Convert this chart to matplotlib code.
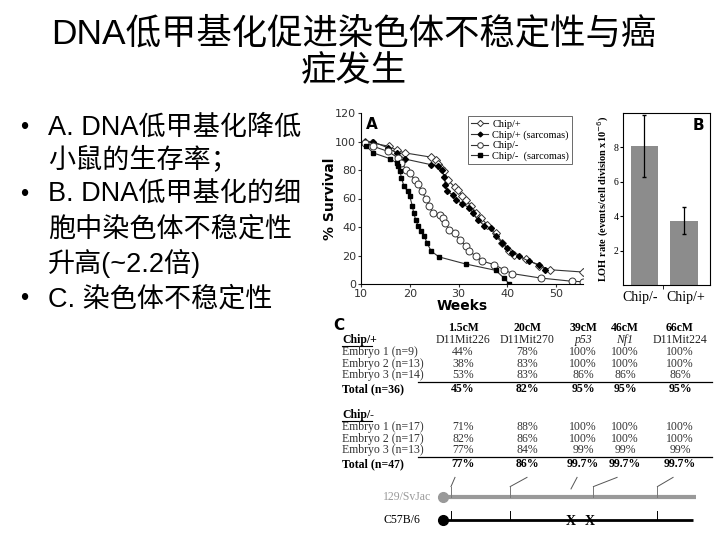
import numpy as np
import matplotlib
matplotlib.use("Agg")
import matplotlib.pyplot as plt

W, H = 720, 540
CJK = ['Liberation Sans', 'Noto Sans CJK SC', 'DejaVu Sans']
SERIF = ['Liberation Serif', 'DejaVu Serif']

# ---- slide text ----
title_lines = ["DNA低甲基化促进染色体不稳定性与癌", "症发生"]
bullet_lines = [
    ("•", "A. DNA低甲基化降低"),
    ("", "小鼠的生存率；"),
    ("•", "B. DNA低甲基化的细"),
    ("", "胞中染色体不稳定性"),
    ("", "升高(~2.2倍)"),
    ("•", "C. 染色体不稳定性"),
]

# ---- panel A: survival curves (weeks, % survival) ----
chip_p_wk = [10.8, 12.2, 15.8, 17.3, 19.0, 24.4, 25.3, 25.8, 26.4, 27.1, 27.8, 29.2, 29.8,
             30.8, 31.5, 32.5, 33.6, 34.6, 35.9, 37.6, 39.0, 40.4, 41.4, 43.8, 46.5, 48.8, 55.5]
chip_p_sv = [100, 99, 96.6, 93.8, 92, 89, 87, 84.4, 81.4, 79, 73, 68, 65.7,
             61.5, 58.7, 55, 50, 46.3, 41.6, 35.8, 28.8, 23, 20.6, 17.5, 12.9, 10, 8.4]

chip_ps_wk = [10.8, 12.4, 15.6, 17.3, 19.0, 24.4, 25.8, 26.6, 27.1, 27.3, 27.6, 28.8, 29.5,
              30.8, 32.2, 32.9, 33.9, 35.3, 36.6, 37.6, 39.0, 40.0, 41.0, 42.4, 44.4, 46.5, 47.8]
chip_ps_sv = [100, 100, 95.4, 92, 87.7, 83.7, 82.6, 80, 75, 69.7, 65, 62.7, 59,
              56.4, 53.3, 50, 45, 41, 39.3, 33.5, 28.8, 25.3, 21.8, 19.4, 16, 13.6, 10]

chip_m_wk = [10.8, 12.5, 15.6, 17.6, 18.3, 19.3, 20.0, 21.0, 21.7, 22.4, 23.4, 24.0, 24.7,
             26.1, 26.8, 27.3, 28.1, 29.2, 30.2, 31.5, 32.2, 33.6, 34.9, 37.3, 39.3, 41.0,
             46.8, 53.3, 55.5]
chip_m_sv = [99, 96.6, 93, 88.4, 85, 80, 78, 73, 70, 65, 59.6, 54.5, 50,
             48.7, 46.3, 42.8, 38, 35.8, 31, 26.4, 23, 19.4, 16, 13.6, 10, 7.3,
             4.2, 1.9, 1.6]

chip_ms_wk = [11.0, 12.5, 15.9, 17.3, 17.6, 18.0, 18.3, 18.8, 19.6, 20.0, 20.5, 20.8, 21.2,
              21.7, 22.2, 23.0, 23.5, 24.4, 26.0, 31.5, 37.6, 39.3, 40.4]
chip_ms_sv = [97, 92, 88, 85, 83, 79, 74.4, 68.5, 65, 61.5, 55, 50, 45,
              41, 37, 33.5, 29, 23, 19, 14, 9.6, 4.2, 0]

legend_labels = ["Chip/+", "Chip/+ (sarcomas)", "Chip/-", "Chip/-  (sarcomas)"]

# ---- panel B: LOH rate ----
loh_groups = ["Chip/-", "Chip/+"]
loh_rate = [8.1, 3.75]
loh_err = [1.8, 0.8]

# ---- panel C: table ----
marker_cm = ["1.5cM", "20cM", "39cM", "46cM", "66cM"]
marker_names = ["D11Mit226", "D11Mit270", "p53", "Nf1", "D11Mit224"]
marker_italic = [False, False, True, True, False]
chip_p_rows = ["Embryo 1 (n=9)", "Embryo 2 (n=13)", "Embryo 3 (n=14)"]
chip_p_vals = [["44%", "78%", "100%", "100%", "100%"],
               ["38%", "83%", "100%", "100%", "100%"],
               ["53%", "83%", "86%", "86%", "86%"]]
chip_p_total = ["45%", "82%", "95%", "95%", "95%"]
chip_m_rows = ["Embryo 1 (n=17)", "Embryo 2 (n=17)", "Embryo 3 (n=13)"]
chip_m_vals = [["71%", "88%", "100%", "100%", "100%"],
               ["82%", "86%", "100%", "100%", "100%"],
               ["77%", "84%", "99%", "99%", "99%"]]
chip_m_total = ["77%", "86%", "99.7%", "99.7%", "99.7%"]

# chromosome map positions (cM)
map_pos = [1.5, 20, 39, 46, 66]
svjac_ticks = [1.5, 20, 46, 66]
b6_ticks = [1.5, 20, 66]
b6_cross = [39, 45]
strains = ["129/SvJac", "C57B/6"]


def box(l, t, r, b):
    return [l / W, 1 - b / H, (r - l) / W, (b - t) / H]


fig = plt.figure(figsize=(7.2, 5.4), dpi=100)
fig.patch.set_facecolor("white")

fig.text(354 / W, 1 - 33 / H, title_lines[0], ha="center", va="center",
         fontsize=25.5, family=CJK)
fig.text(354 / W, 1 - 72 / H, title_lines[1], ha="center", va="center",
         fontsize=25.5, family=CJK)

bullet_y = [128, 161, 195, 229, 263, 299]
for (b, s), y in zip(bullet_lines, bullet_y):
    if b:
        fig.text(24 / W, 1 - y / H, b, ha="center", va="center", fontsize=17, family=CJK)
    fig.text(48 / W, 1 - y / H, s, ha="left", va="center", fontsize=19.5, family=CJK)

# ---- A ----
axA = fig.add_axes(box(361, 113, 583, 284))
line_kw = dict(color="#333333", lw=0.8)
axA.plot(chip_p_wk, chip_p_sv, marker="D", ms=4, mfc="white", mec="#333333", mew=0.7,
         label=legend_labels[0], **line_kw)
axA.plot(chip_ps_wk, chip_ps_sv, marker="D", ms=3, mfc="black", mec="black",
         label=legend_labels[1], **line_kw)
axA.plot(chip_m_wk, chip_m_sv, marker="o", ms=5, mfc="white", mec="#333333", mew=0.7,
         label=legend_labels[2], **line_kw)
axA.plot(chip_ms_wk, chip_ms_sv, marker="s", ms=3.5, mfc="black", mec="black",
         label=legend_labels[3], **line_kw)
axA.set_xlim(10, 55.5)
axA.set_ylim(0, 120)
axA.set_xticks([10, 20, 30, 40, 50])
axA.set_yticks([0, 20, 40, 60, 80, 100, 120])
for s in ["top", "right"]:
    axA.spines[s].set_visible(False)
axA.tick_params(labelsize=8, length=2.5, width=0.8, pad=1, colors="#333333")
axA.set_xlabel("Weeks", fontsize=10, fontweight="bold")
axA.xaxis.set_label_coords(0.455, -0.09)
axA.set_ylabel("% Survival", fontsize=10, fontweight="bold")
axA.yaxis.set_label_coords(-0.11, 0.5)
axA.text(0.02, 0.975, "A", transform=axA.transAxes, fontsize=11, fontweight="bold",
         va="top", ha="left")
leg = axA.legend(loc="upper right", bbox_to_anchor=(0.975, 1.01),
                 prop={"family": SERIF, "size": 7.5}, frameon=True, fancybox=False,
                 edgecolor="#444444", handlelength=1.6, handletextpad=0.4,
                 borderpad=0.3, labelspacing=0.12, markerscale=0.8)
leg.get_frame().set_linewidth(0.7)

# ---- B ----
axB = fig.add_axes(box(623, 113, 710, 285))
axB.bar(range(len(loh_groups)), loh_rate, width=0.68, color="#8c8c8c",
        yerr=loh_err, error_kw=dict(ecolor="black", lw=0.9, capsize=1.5))
axB.set_xlim(-0.53, 1.65)
axB.set_ylim(0, 10)
axB.set_yticks([2, 4, 6, 8])
axB.set_xticks([-0.1, 1.05])
axB.set_xticklabels(loh_groups, family=SERIF, fontsize=10)
axB.set_xticks([0.48], minor=True)
axB.tick_params(axis="x", which="major", length=0, pad=4)
axB.tick_params(axis="x", which="minor", length=3)
axB.tick_params(axis="y", labelsize=7, length=2, pad=1)
for t in axB.get_yticklabels():
    t.set_family(SERIF)
axB.set_ylabel("LOH rate (events/cell division x10$^{-6}$)", family=SERIF,
               fontsize=7.5, fontweight="bold", labelpad=2)
axB.text(0.93, 0.97, "B", transform=axB.transAxes, fontsize=11, fontweight="bold",
         va="top", ha="right")
for s in axB.spines.values():
    s.set_linewidth(0.8)

# ---- C: table (axes in pixel units) ----
axC = fig.add_axes(box(330, 315, 720, 475))
axC.set_xlim(330, 720)
axC.set_ylim(475, 315)
axC.axis("off")
col_x = [463, 527, 583, 625, 680]
tfs = 8.5
axC.text(333, 326, "C", fontsize=11, fontweight="bold", va="center", ha="left")
for x, cm, nm, it in zip(col_x, marker_cm, marker_names, marker_italic):
    axC.text(x, 328, cm, family=SERIF, fontsize=tfs, fontweight="bold", ha="center", va="center")
    axC.text(x, 340, nm, family=SERIF, fontsize=tfs, ha="center", va="center",
             style="italic" if it else "normal", color="#222222")


def block(y0, head, rows, vals, total_label, total):
    axC.text(342, y0, head, family=SERIF, fontsize=tfs, fontweight="bold",
             ha="left", va="center")
    axC.plot([342, 372], [y0 + 5.5, y0 + 5.5], color="black", lw=0.8)
    y = y0
    for r, v in zip(rows, vals):
        y += 11.8
        axC.text(342, y, r, family=SERIF, fontsize=tfs, ha="left", va="center", color="#333333")
        for x, s in zip(col_x, v):
            axC.text(x, y, s, family=SERIF, fontsize=tfs, ha="center", va="center", color="#333333")
    axC.plot([418, 712], [y + 7, y + 7], color="black", lw=0.9)
    y += 14
    axC.text(342, y, total_label, family=SERIF, fontsize=tfs, fontweight="bold",
             ha="left", va="center")
    for x, s in zip(col_x, total):
        axC.text(x, y, s, family=SERIF, fontsize=tfs, fontweight="bold", ha="center", va="center")


block(340, "Chip/+", chip_p_rows, chip_p_vals, "Total (n=36)", chip_p_total)
block(415, "Chip/-", chip_m_rows, chip_m_vals, "Total (n=47)", chip_m_total)

# ---- C: chromosome map (x in cM) ----
axM = fig.add_axes(box(430, 470, 712, 535))
axM.set_xlim(-5.06, 83.06)
axM.set_ylim(-0.65, 2.17)
axM.axis("off")
axM.plot([-1, 78], [1, 1], color="#999999", lw=3, solid_capstyle="butt")
axM.plot([-1], [1], "o", color="#999999", ms=7)
axM.plot([-1, 77], [0, 0], color="black", lw=2, solid_capstyle="butt")
axM.plot([-1], [0], "o", color="black", ms=7)
label_cm = [2.75, 25.25, 40.9, 53.4, 70.9]
for p, lc in zip(map_pos, label_cm):
    if p in svjac_ticks:
        axM.plot([p, p], [1, 1.45], color="#777777", lw=0.7)
        axM.plot([p, lc], [1.45, 1.85], color="#555555", lw=0.7)
    else:
        axM.plot([p, lc], [1.35, 1.85], color="#555555", lw=0.7)
for p in b6_ticks:
    axM.plot([p, p], [0, 0.4], color="black", lw=0.7)
for p in b6_cross:
    axM.text(p, -0.05, "X", family=SERIF, fontsize=10, fontweight="bold",
             ha="center", va="center")
axM.text(383 / W, 1 - 497 / H, strains[0], family=SERIF, fontsize=8.5, color="#999999",
         ha="left", va="center", transform=fig.transFigure)
axM.text(383 / W, 1 - 520 / H, strains[1], family=SERIF, fontsize=8.5, color="black",
         ha="left", va="center", transform=fig.transFigure)

fig.savefig("out.png", dpi=100)
